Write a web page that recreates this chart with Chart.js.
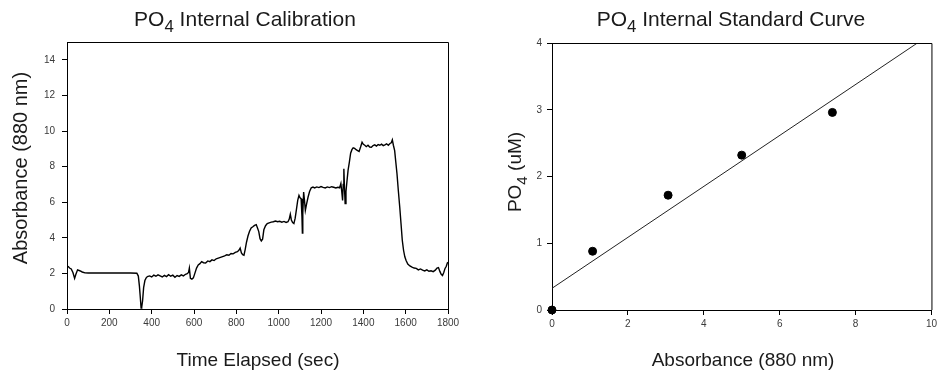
<!DOCTYPE html>
<html lang="en">
<head>
  <meta charset="UTF-8" />
  <title>PO4 Internal Calibration</title>
  <script src="https://cdn.jsdelivr.net/npm/chart.js"></script>
  <style>
    html, body { margin: 0; padding: 0; background: #fff; }
    .wrap { position: relative; width: 940px; height: 381px; }
    .panel { position: absolute; top: 0; width: 470px; height: 381px; }
    #leftPanel { left: 0; }
    #rightPanel { left: 470px; }
  </style>
</head>
<body>
  <div class="wrap">
    <div class="panel" id="leftPanel"><canvas id="calChart"></canvas></div>
    <div class="panel" id="rightPanel"><canvas id="stdChart"></canvas></div>
  </div>

  <script>
    // internal calibration trace (time in sec, absorbance)
    const calTime = [
      0, 6, 12, 20, 28, 36, 42, 50, 60, 72, 85, 100, 150, 200, 250, 300, 330, 337, 342, 346,
      350, 353, 357, 362, 368, 374, 380, 390, 400, 410, 420, 430, 440, 450, 460, 470, 480, 490, 500, 510,
      520, 530, 540, 550, 560, 568, 574, 578, 583, 590, 597, 604, 612, 620, 628, 636, 645, 655, 665, 675,
      685, 695, 705, 715, 725, 735, 745, 755, 765, 775, 785, 795, 805, 812, 818, 824, 830, 836, 842, 848,
      855, 862, 870, 878, 886, 894, 900, 906, 912, 918, 924, 930, 938, 946, 955, 965, 975, 985, 995, 1005,
      1015, 1025, 1035, 1044, 1050, 1055, 1060, 1066, 1072, 1078, 1084, 1090, 1096, 1101, 1106, 1110, 1112, 1114, 1118, 1122,
      1126, 1132, 1139, 1146, 1154, 1162, 1170, 1180, 1190, 1200, 1210, 1220, 1230, 1240, 1250, 1260, 1270, 1280, 1288, 1294,
      1298, 1302, 1305, 1308, 1311, 1314, 1318, 1323, 1328, 1334, 1340, 1346, 1352, 1359, 1366, 1373, 1380, 1387, 1394, 1400,
      1407, 1414, 1422, 1430, 1438, 1446, 1454, 1462, 1470, 1478, 1486, 1494, 1502, 1510, 1518, 1526, 1532, 1537, 1542, 1548,
      1553, 1559, 1565, 1572, 1578, 1584, 1590, 1596, 1602, 1610, 1620, 1630, 1640, 1650, 1660, 1670, 1680, 1690, 1700, 1710,
      1720, 1730, 1740, 1748, 1755, 1762, 1768, 1774, 1780, 1786, 1792, 1797, 1800
    ];
    const calAbs = [
      2.41, 2.38, 2.30, 2.25, 2.05, 1.72, 1.95, 2.20, 2.15, 2.08, 2.03, 2.02, 2.02, 2.02, 2.02, 2.02, 2.01, 1.85, 1.30, 0.70,
      0.05, 0.10, 0.45, 1.20, 1.60, 1.75, 1.82, 1.86, 1.80, 1.90, 1.84, 1.92, 1.86, 1.80, 1.89, 1.82, 1.93, 1.84, 1.90, 1.78,
      1.88, 1.83, 1.92, 1.86, 1.95, 1.98, 2.05, 2.30, 1.72, 1.68, 1.75, 2.00, 2.30, 2.48, 2.55, 2.66, 2.60, 2.58, 2.70, 2.66,
      2.76, 2.72, 2.82, 2.86, 2.90, 2.94, 2.98, 3.05, 3.02, 3.12, 3.10, 3.18, 3.22, 3.30, 3.42, 3.15, 3.05, 3.02, 3.35, 3.75,
      4.10, 4.35, 4.55, 4.62, 4.70, 4.74, 4.55, 4.35, 3.95, 3.82, 3.92, 4.45, 4.68, 4.80, 4.84, 4.88, 4.90, 4.94, 4.90, 4.93,
      4.88, 4.92, 4.86, 4.90, 5.05, 5.32, 5.00, 4.86, 4.80, 5.10, 5.60, 6.10, 6.38, 6.25, 6.20, 5.20, 4.27, 5.40, 6.57, 6.10,
      5.54, 5.90, 6.29, 6.60, 6.81, 6.85, 6.80, 6.86, 6.82, 6.88, 6.83, 6.80, 6.86, 6.82, 6.87, 6.84, 6.80, 6.84, 6.81, 7.05,
      6.60, 6.10, 7.00, 7.88, 6.80, 5.92, 6.60, 7.22, 7.80, 8.25, 8.75, 8.95, 9.05, 9.02, 8.95, 8.90, 8.85, 9.10, 9.37, 9.25,
      9.20, 9.12, 9.20, 9.10, 9.09, 9.18, 9.22, 9.15, 9.24, 9.20, 9.26, 9.18, 9.22, 9.28, 9.20, 9.30, 9.34, 9.50, 9.20, 8.90,
      8.30, 7.60, 6.70, 5.73, 4.80, 3.86, 3.30, 2.93, 2.72, 2.52, 2.42, 2.35, 2.30, 2.28, 2.20, 2.25, 2.18, 2.14, 2.20, 2.12,
      2.15, 2.10, 2.18, 2.30, 2.33, 2.10, 1.95, 1.88, 2.05, 2.28, 2.40, 2.59, 2.62
    ];
    const calXTicks = [0, 200, 400, 600, 800, 1000, 1200, 1400, 1600, 1800];
    const calYTicks = [0, 2, 4, 6, 8, 10, 12, 14];

    // standard curve points and fitted line
    const stdAbs = [0, 1.07, 3.06, 5.0, 7.39];
    const stdPO4 = [0, 0.88, 1.72, 2.32, 2.96];
    const fitAbs = [0, 9.63];
    const fitPO4 = [0.325, 4];
    const stdXTicks = [0, 2, 4, 6, 8, 10];
    const stdYTicks = [0, 1, 2, 3, 4];

    const FONT = '"Liberation Sans", Arial, sans-serif';
    const TXT = '#1a1a1a';
    const TICK_TXT = '#3a3a3a';

    // text with a subscript part: parts = [[text, isSub], ...]
    function drawParts(ctx, parts, x, y, size, rotate) {
      ctx.save();
      ctx.fillStyle = TXT;
      ctx.textBaseline = 'alphabetic';
      ctx.textAlign = 'left';
      let total = 0;
      parts.forEach(p => {
        ctx.font = (p[1] ? size * 0.8 : size) + 'px ' + FONT;
        total += ctx.measureText(p[0]).width;
      });
      ctx.translate(x, y);
      if (rotate) ctx.rotate(-Math.PI / 2);
      let cx = -total / 2;
      parts.forEach(p => {
        ctx.font = (p[1] ? size * 0.8 : size) + 'px ' + FONT;
        ctx.fillText(p[0], cx, p[1] ? size * 0.3 : 0);
        cx += ctx.measureText(p[0]).width;
      });
      ctx.restore();
    }

    function framePlugin(labels) {
      return {
        id: 'frame',
        afterDraw(chart) {
          const a = chart.chartArea;
          const ctx = chart.ctx;
          ctx.save();
          ctx.strokeStyle = '#000';
          ctx.lineWidth = 1;
          ctx.beginPath();
          ctx.moveTo(a.left, a.top + 0.5);
          ctx.lineTo(a.right + 0.5, a.top + 0.5);
          ctx.lineTo(a.right + 0.5, a.bottom);
          ctx.stroke();
          ctx.restore();
          labels.forEach(l => drawParts(ctx, l.parts, l.x, l.y, l.size, l.rotate));
        }
      };
    }

    function axis(min, max, tickVals, size, pad, isY) {
      return {
        type: 'linear',
        min: min,
        max: max,
        afterBuildTicks: s => { s.ticks = tickVals.map(v => ({ value: v })); },
        afterFit: s => { if (isY) s.width = size; else s.height = size; },
        grid: { drawOnChartArea: false, drawTicks: true, tickLength: 5, color: '#000', tickColor: '#000' },
        border: { display: true, color: '#000', width: 1 },
        ticks: {
          color: TICK_TXT, font: { family: FONT, size: 10 }, padding: pad, maxRotation: 0, autoSkip: false,
          callback: v => String(v)
        }
      };
    }

    new Chart(document.getElementById('calChart'), {
      type: 'line',
      data: {
        datasets: [{
          data: calTime.map((t, i) => ({ x: t, y: calAbs[i] })),
          borderColor: '#000',
          borderWidth: 1.4,
          pointRadius: 0,
          tension: 0,
          fill: false
        }]
      },
      options: {
        responsive: true,
        maintainAspectRatio: false,
        animation: false,
        layout: { padding: { left: 0, right: 22, top: 42, bottom: 0 } },
        plugins: { legend: { display: false }, tooltip: { enabled: false } },
        scales: {
          x: axis(0, 1800, calXTicks, 72, 3, false),
          y: axis(0, 15, calYTicks, 67, 7, true)
        }
      },
      plugins: [framePlugin([
        { parts: [['PO', 0], ['4', 1], [' Internal Calibration', 0]], x: 245, y: 26, size: 21 },
        { parts: [['Time Elapsed (sec)', 0]], x: 258, y: 366, size: 19 },
        { parts: [['Absorbance (880 nm)', 0]], x: 27, y: 168, size: 20, rotate: true }
      ])]
    });

    new Chart(document.getElementById('stdChart'), {
      type: 'scatter',
      data: {
        datasets: [{
          data: stdAbs.map((v, i) => ({ x: v, y: stdPO4[i] })),
          backgroundColor: '#000',
          borderColor: '#000',
          pointRadius: 4,
          clip: false
        }, {
          type: 'line',
          data: fitAbs.map((v, i) => ({ x: v, y: fitPO4[i] })),
          borderColor: '#222',
          borderWidth: 1,
          pointRadius: 0,
          fill: false
        }]
      },
      options: {
        responsive: true,
        maintainAspectRatio: false,
        animation: false,
        layout: { padding: { left: 0, right: 7, top: 43, bottom: 0 } },
        plugins: { legend: { display: false }, tooltip: { enabled: false } },
        scales: {
          x: axis(0, 10, stdXTicks, 71, 3, false),
          y: axis(0, 4, stdYTicks, 82, 5, true)
        }
      },
      plugins: [framePlugin([
        { parts: [['PO', 0], ['4', 1], [' Internal Standard Curve', 0]], x: 261, y: 26, size: 21 },
        { parts: [['Absorbance (880 nm)', 0]], x: 273, y: 366, size: 19 },
        { parts: [['PO', 0], ['4', 1], [' (uM)', 0]], x: 51, y: 172, size: 19, rotate: true }
      ])]
    });
  </script>
</body>
</html>
